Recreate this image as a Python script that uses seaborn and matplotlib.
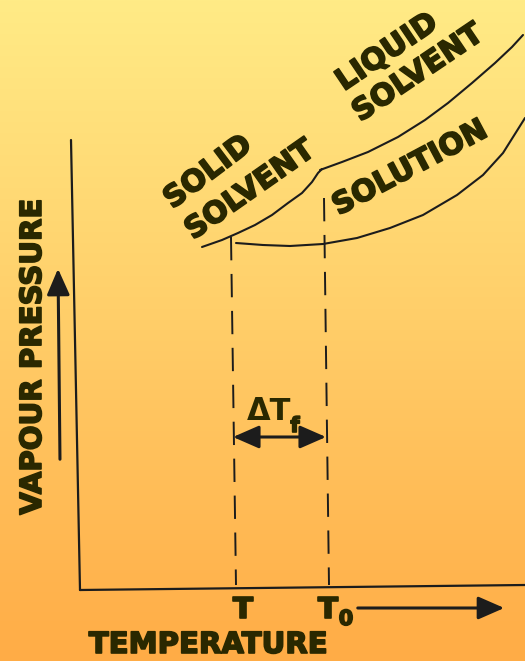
import numpy as np
import pandas as pd
import matplotlib
matplotlib.use("Agg")
import matplotlib.pyplot as plt
import matplotlib.patheffects as pe
from matplotlib.colors import LinearSegmentedColormap
import seaborn as sns

sns.set_theme(style="white")
plt.rcParams['font.family'] = ['DejaVu Sans']

# ---- data (diagram coordinates) ----
solid_T = [202, 222, 238, 255, 272, 288, 302, 312, 318, 322]
solid_P = [247, 240, 233, 225, 215, 203, 193, 182, 173, 169]

liquid_T = [320, 342, 368, 398, 425, 448, 472, 495, 512, 523]
liquid_P = [170, 162, 152, 137, 120, 103, 83, 63, 47, 35]

solution_T = [236, 263, 290, 323, 357, 390, 423, 457, 483, 503, 525]
solution_P = [243, 245, 246, 244, 238, 228, 215, 195, 175, 153, 118]

freeze_T = [232, 325]          # T and T0 positions
freeze_top = [237, 198]
freeze_bottom = [585, 585]

curve_labels = ["SOLID", "SOLVENT", "LIQUID", "SOLVENT", "SOLUTION"]
label_x = [208, 250, 387, 418, 410]
label_y = [172, 190, 52, 73, 168]
label_rot = [37, 35, 34, 34, 28]

W, H = 525, 661
fig = plt.figure(figsize=(W / 100, H / 100), dpi=100)
ax = fig.add_axes([0, 0, 1, 1])

# background gradient
cmap = LinearSegmentedColormap.from_list("bg", ["#FFEB86", "#FFCD68", "#FFAC46"])
grad = np.linspace(0, 1, 256).reshape(-1, 1)
ax.imshow(grad, extent=[0, W, H, 0], aspect="auto", cmap=cmap, zorder=0)

line_c = "#1c1c1c"
text_c = "#2a2800"

df = pd.concat([
    pd.DataFrame({"T": solid_T, "P": solid_P, "curve": "solid"}),
    pd.DataFrame({"T": liquid_T, "P": liquid_P, "curve": "liquid"}),
    pd.DataFrame({"T": solution_T, "P": solution_P, "curve": "solution"}),
])
for name, g in df.groupby("curve"):
    sns.lineplot(data=g, x="T", y="P", ax=ax, sort=False, estimator=None,
                 color=line_c, lw=1.5, zorder=3)
ax.set_xlim(0, W)
ax.set_ylim(H, 0)
ax.axis("off")

# axes lines (slightly tilted as in reference)
ax.plot([71, 80], [140, 590], color=line_c, lw=1.6, zorder=3)
ax.plot([80, 525], [590, 585], color=line_c, lw=1.6, zorder=3)

# dashed freezing-point lines
for t, top, bot in zip(freeze_T, freeze_top, freeze_bottom):
    ax.plot([t - 1, t + 4], [top, bot], color=line_c, lw=1.4,
            dashes=(12, 7), zorder=3)

# arrows
ax.annotate("", xy=(58, 266), xytext=(60, 462),
            arrowprops=dict(arrowstyle="-|>,head_length=0.8,head_width=0.35",
                            color=line_c, lw=2.2, mutation_scale=20))
ax.annotate("", xy=(507, 608), xytext=(355, 608),
            arrowprops=dict(arrowstyle="-|>,head_length=0.8,head_width=0.35",
                            color=line_c, lw=2.2, mutation_scale=20))
ax.annotate("", xy=(326, 437), xytext=(233, 437),
            arrowprops=dict(arrowstyle="<|-|>,head_length=0.8,head_width=0.35",
                            color=line_c, lw=2.2, mutation_scale=20,
                            shrinkA=0, shrinkB=0))

heavy = [pe.withStroke(linewidth=1.2, foreground=text_c)]
tkw = dict(color=text_c, fontweight="bold", ha="center", va="center",
           rotation_mode="anchor", zorder=4)

for s, x, y, r in zip(curve_labels, label_x, label_y, label_rot):
    ax.text(x, y, s, fontsize=21.5, rotation=r, path_effects=heavy, **tkw)

ax.text(33, 357, "VAPOUR PRESSURE", fontsize=21, rotation=90, path_effects=heavy, **tkw)
ax.text(208, 645, "TEMPERATURE", fontsize=21, path_effects=heavy, **tkw)
ax.text(243, 610, "T", fontsize=21, path_effects=heavy, **tkw)
ax.text(328, 610, "T", fontsize=21, path_effects=heavy, **tkw)
ax.text(346, 619, "0", fontsize=15, path_effects=heavy, **tkw)
ax.text(269, 412, "ΔT", fontsize=22, **tkw)
ax.text(295, 426, "f", fontsize=15, path_effects=heavy, **tkw)

fig.savefig("out.png", dpi=100)
